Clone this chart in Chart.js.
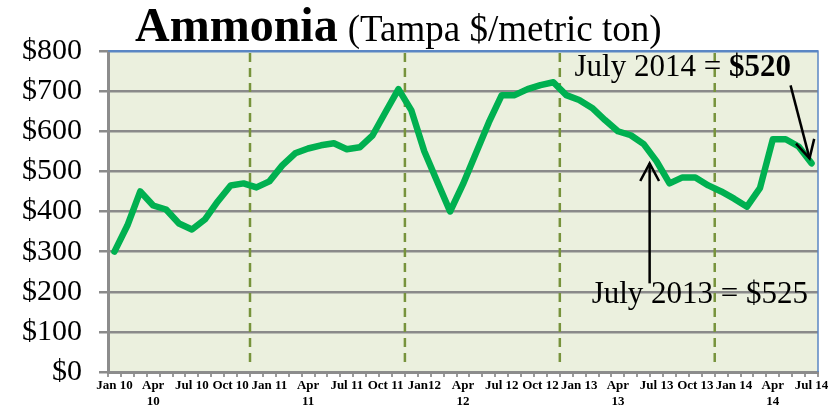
<!DOCTYPE html>
<html><head><meta charset="utf-8">
<style>html,body{margin:0;padding:0;background:#fff;}#wrap{width:839px;height:412px;position:relative;}</style>
<script src="https://cdn.jsdelivr.net/npm/chart.js@4.4.1/dist/chart.umd.min.js"></script>
</head><body><div id="wrap"><canvas id="c" width="839" height="412"></canvas></div>
<script>
const months = ['Jan 10','Feb 10','Mar 10','Apr 10','May 10','Jun 10','Jul 10','Aug 10','Sep 10','Oct 10','Nov 10','Dec 10',
'Jan 11','Feb 11','Mar 11','Apr 11','May 11','Jun 11','Jul 11','Aug 11','Sep 11','Oct 11','Nov 11','Dec 11',
'Jan 12','Feb 12','Mar 12','Apr 12','May 12','Jun 12','Jul 12','Aug 12','Sep 12','Oct 12','Nov 12','Dec 12',
'Jan 13','Feb 13','Mar 13','Apr 13','May 13','Jun 13','Jul 13','Aug 13','Sep 13','Oct 13','Nov 13','Dec 13',
'Jan 14','Feb 14','Mar 14','Apr 14','May 14','Jun 14','Jul 14'];
const prices = [300,365,450,415,405,370,355,380,425,465,
470,460,475,515,545,557,565,570,555,560,
590,648,705,652,550,475,400,468,545,622,
690,690,705,715,722,690,678,658,628,600,
590,568,525,470,485,485,465,450,432,412,
458,580,580,562,520];
const tickLabels = ['Jan 10',['Apr','10'],'Jul 10','Oct 10','Jan 11',['Apr','11'],'Jul 11','Oct 11','Jan12',['Apr','12'],
'Jul 12','Oct 12','Jan 13',['Apr','13'],'Jul 13','Oct 13','Jan 14',['Apr','14'],'Jul 14'];
const yearDividers = ['Dec 10','Dec 11','Dec 12','Dec 13'];
const titleMain = 'Ammonia';
const titleSub = '(Tampa $/metric ton)';
const notes = [
  {month:'Jul 14', pre:'July 2014 = ', val:'$520'},
  {month:'Jul 13', pre:'July 2013 = ', val:'$525'}
];

function arrow(ctx, tx, ty, fx, fy){
  ctx.beginPath(); ctx.moveTo(fx,fy); ctx.lineTo(tx,ty); ctx.stroke();
  const a = Math.atan2(fy-ty, fx-tx), L = 20, th = 28*Math.PI/180;
  ctx.beginPath();
  ctx.moveTo(tx + L*Math.cos(a+th), ty + L*Math.sin(a+th));
  ctx.lineTo(tx,ty);
  ctx.lineTo(tx + L*Math.cos(a-th), ty + L*Math.sin(a-th));
  ctx.stroke();
}

const deco = {
  id:'deco',
  beforeDraw(chart){
    const {ctx, chartArea:a} = chart;
    ctx.save(); ctx.fillStyle='#EBF0DE'; ctx.fillRect(a.left,a.top,a.right-a.left,a.bottom-a.top); ctx.restore();
  },
  beforeDatasetsDraw(chart){
    const {ctx, chartArea:a, scales:{x}} = chart;
    ctx.save(); ctx.strokeStyle='#77933C'; ctx.lineWidth=2.5; ctx.setLineDash([9,6]);
    yearDividers.forEach(m=>{
      const i = months.indexOf(m);
      const px = (x.getPixelForValue(i-1)+x.getPixelForValue(i))/2;
      ctx.beginPath(); ctx.moveTo(px,a.top+2); ctx.lineTo(px,a.bottom-4); ctx.stroke();
    });
    ctx.restore();
  },
  afterDatasetsDraw(chart){
    const {ctx, chartArea:a} = chart;
    ctx.save();
    ctx.strokeStyle='#5B86C4'; ctx.lineWidth=1.5;
    ctx.beginPath(); ctx.moveTo(a.left,a.top); ctx.lineTo(a.right,a.top); ctx.lineTo(a.right,a.bottom); ctx.stroke();
    ctx.fillStyle='#000'; ctx.textBaseline='alphabetic'; ctx.textAlign='left';
    ctx.font='bold 48px "Liberation Serif"';
    const tx = a.left+27, ty = a.top-10;
    ctx.fillText(titleMain, tx, ty);
    const w = ctx.measureText(titleMain).width;
    ctx.font='37px "Liberation Serif"';
    ctx.fillText(titleSub, tx+w+10, ty);
    const meta = chart.getDatasetMeta(0);
    ctx.strokeStyle='#000'; ctx.lineWidth=2.5; ctx.setLineDash([]);
    let p = meta.data[months.indexOf(notes[0].month)];
    ctx.font='31px "Liberation Serif"';
    let sx = p.x-237, sy = p.y-87;
    ctx.fillText(notes[0].pre, sx, sy);
    let w1 = ctx.measureText(notes[0].pre).width;
    ctx.font='bold 31px "Liberation Serif"';
    ctx.fillText(notes[0].val, sx+w1, sy);
    arrow(ctx, p.x-2, p.y-5, p.x-21, p.y-78);
    p = meta.data[months.indexOf(notes[1].month)];
    ctx.font='31px "Liberation Serif"';
    sx = p.x-65; sy = p.y+142;
    ctx.fillText(notes[1].pre + notes[1].val, sx, sy);
    arrow(ctx, p.x-7, p.y+2, p.x-7, p.y+122);
    ctx.restore();
  }
};

Chart.defaults.font.family = '"Liberation Serif"';
new Chart(document.getElementById('c'), {
  type:'line',
  data:{labels:months, datasets:[{data:prices, borderColor:'#00B050', borderWidth:6.5, pointRadius:0, fill:false, tension:0, borderJoinStyle:'round', borderCapStyle:'round'}]},
  options:{
    responsive:false, animation:false, devicePixelRatio:1,
    layout:{padding:{top:51,right:21,left:0,bottom:0}},
    plugins:{legend:{display:false}, tooltip:{enabled:false}, title:{display:false}},
    scales:{
      x:{type:'category', offset:true,
        grid:{offset:true, drawOnChartArea:false, drawTicks:true, tickLength:5, color:'#9a9a9a', lineWidth:2},
        border:{display:true, color:'#8C8C8C', width:3},
        ticks:{autoSkip:false, maxRotation:0, minRotation:0, padding:1, color:'#000',
          font:{family:'"Liberation Serif"', weight:'bold', size:13, lineHeight:1.2},
          callback:(v,i)=> i%3===0 ? tickLabels[i/3] : ''},
        afterFit:s=>{s.height=40;}
      },
      y:{min:0, max:800,
        ticks:{stepSize:100, callback:v=>'$'+v, padding:17, color:'#000', font:{family:'"Liberation Serif"', size:30}},
        grid:{color:c=> (c.tick && c.tick.value===800) ? '#5B86C4' : '#8A8A8A', lineWidth:2.5, tickLength:9, drawTicks:true, tickColor:'#8A8A8A'},
        border:{color:'#8C8C8C', width:3},
        afterFit:s=>{s.width=108;}
      }
    }
  },
  plugins:[deco]
});
</script></body></html>
